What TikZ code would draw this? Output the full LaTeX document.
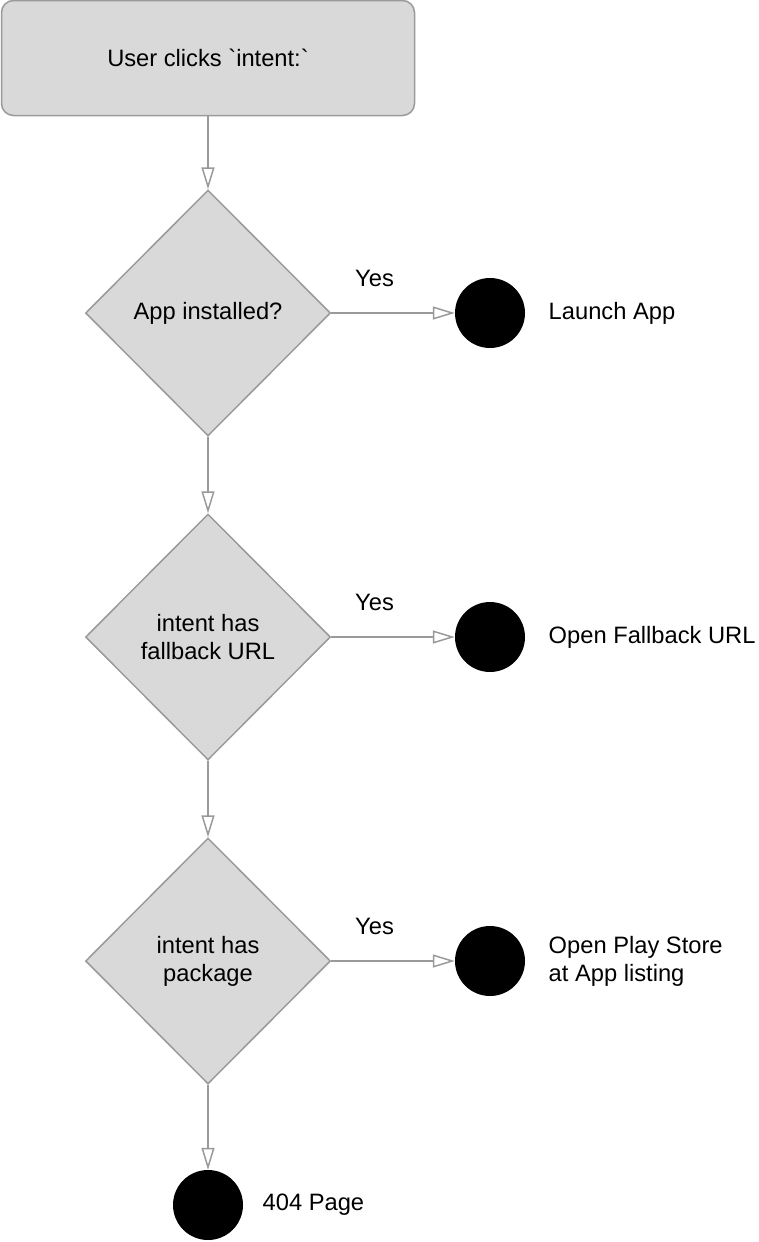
\documentclass[tikz,border=0pt]{standalone}
\usepackage{fontspec}
\setmainfont{Liberation Sans}
\usetikzlibrary{shapes.geometric,arrows.meta,positioning}
\definecolor{boxgray}{HTML}{D9D9D9}
\definecolor{linegray}{HTML}{9A9A9A}

\tikzset{
  startbox/.style={draw=linegray, fill=boxgray, line width=1.5pt, rounded corners=12pt,
    minimum width=413pt, minimum height=115pt},
  decision/.style={diamond, draw=linegray, fill=boxgray, line width=1.5pt,
    minimum width=245pt, minimum height=246pt, inner sep=0pt, align=center},
  endpoint/.style={circle, fill=black, minimum size=70pt, inner sep=0pt},
  outcome/.style={align=left, right=20pt of #1},
  flow/.style={draw=linegray, line width=1.5pt,
    -{Triangle[open, length=22pt, width=13pt]}},
}

\begin{document}
\begin{tikzpicture}[x=1pt, y=-1pt, font=\fontsize{23.7}{28}\selectfont]
\useasboundingbox (0,0) rectangle (758,1242);

\node[startbox] (start) at (208,58) {User clicks \textasciigrave intent:\textasciigrave};

\node[decision] (d1) at (208,313) {App installed?};
\node[decision] (d2) at (208,637) {intent has\\fallback URL};
\node[decision] (d3) at (208,961) {intent has\\package};

\node[endpoint] (c1) at (490,313) {};
\node[endpoint] (c2) at (490,637) {};
\node[endpoint] (c3) at (490,961) {};
\node[endpoint] (c4) at (208,1205) {};

\node[outcome=c1] (launch) {Launch App};
\node[outcome=c2] (fallback) {Open Fallback URL};
\node[outcome=c3] (store) {Open Play Store\\at App listing};
\node[align=left, right=16pt of c4] (notfound) {404 Page};

% down the chain
\draw[flow] (start) -- (d1);
\draw[flow] (d1) -- (d2);
\draw[flow] (d2) -- (d3);
\draw[flow] (d3) -- (c4);

% yes branches
\foreach \i in {1,2,3}
  \draw[flow] (d\i) -- node[pos=0.35, above=22pt] (yes\i) {Yes} (c\i);

\end{tikzpicture}
\end{document}
